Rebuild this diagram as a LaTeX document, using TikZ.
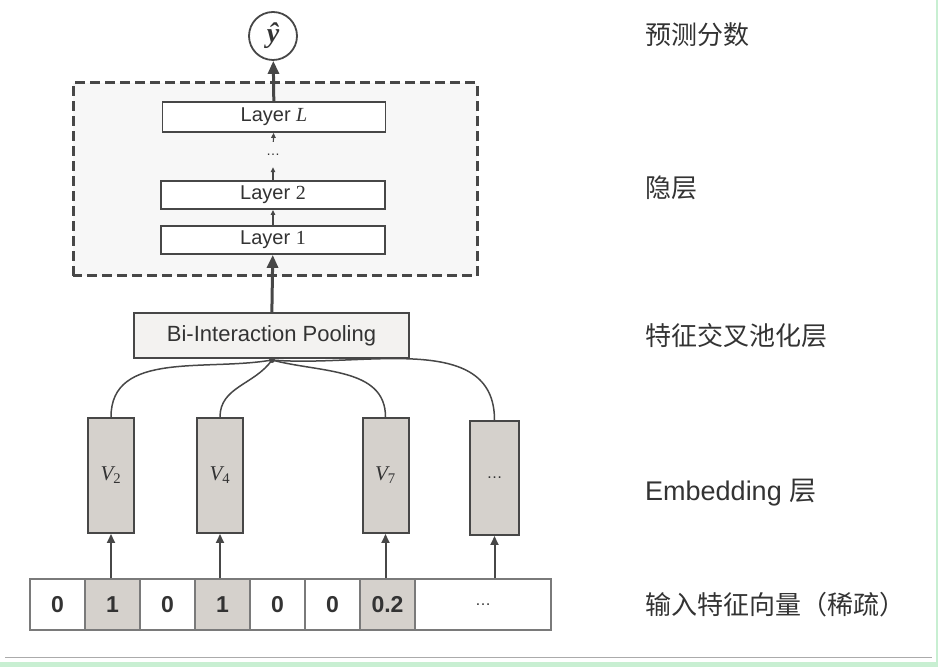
\documentclass[tikz,border=0pt]{standalone}
\usepackage{fontspec}
\setmainfont{Liberation Sans}
\newfontfamily\cjk{Noto Sans CJK SC}
\newfontfamily\serifnum{Liberation Serif}
\usepackage{xcolor}
\usetikzlibrary{arrows.meta, positioning, calc}
\definecolor{boxline}{HTML}{474747}
\definecolor{cellline}{HTML}{7A7A7A}
\definecolor{embfill}{HTML}{D5D1CC}
\definecolor{poolfill}{HTML}{F3F2F0}
\definecolor{hidfill}{HTML}{F7F7F7}
\definecolor{textgray}{HTML}{333333}
\definecolor{framegreen}{HTML}{C8EFD2}
\definecolor{rulegray}{HTML}{ABABAB}

\begin{document}
\begin{tikzpicture}[x=1pt, y=1pt]
    % Define styles
    \tikzstyle{layer} = [rectangle, draw=boxline, fill=white, line width=1.8pt, minimum width=224pt, minimum height=28pt, inner sep=0pt, text=textgray, font=\fontsize{20}{24}\selectfont]
    \tikzstyle{pool} = [rectangle, draw=boxline, fill=poolfill, line width=1.6pt, minimum width=275pt, minimum height=45pt, inner sep=0pt, text=textgray, font=\fontsize{22}{26}\selectfont]
    \tikzstyle{embed} = [rectangle, draw=boxline, fill=embfill, line width=2pt, minimum width=46pt, minimum height=115pt, inner sep=0pt, text=textgray, font=\fontsize{21}{24}\selectfont\serifnum\itshape]
    \tikzstyle{cell} = [rectangle, draw=cellline, fill=white, line width=1.4pt, minimum width=55pt, minimum height=51pt, inner sep=0pt, text=textgray, font=\fontsize{23}{26}\selectfont\bfseries]
    \tikzstyle{hot} = [cell, fill=embfill]
    \tikzstyle{sidelabel} = [anchor=west, inner sep=0pt, text=textgray, font=\fontsize{26}{30}\selectfont\cjk]
    \tikzstyle{bigarrow} = [draw=boxline, line width=3pt, -{Triangle[length=13pt, width=11pt]}]
    \tikzstyle{smallarrow} = [draw=boxline, line width=1.2pt, -{Triangle[length=5pt, width=4.5pt]}]
    \tikzstyle{inarrow} = [draw=boxline, line width=2pt, -{Triangle[length=9pt, width=8pt]}]
    \tikzstyle{link} = [draw=boxline, line width=1.5pt]

    \useasboundingbox (0,0) rectangle (938,667);

    % frame
    \fill[framegreen] (0,0) rectangle (938,5);
    \fill[framegreen] (936,5) rectangle (938,667);
    \draw[rulegray, line width=1.5pt] (5,9.5) -- (932,9.5);

    % hidden layers
    \draw[boxline, fill=hidfill, line width=3pt, dash pattern=on 10pt off 5pt] (73,391) rectangle (477,584);
    \node[layer] (layer1) at (273,427) {Layer {\serifnum 1}};
    \node[layer] (layer2) at (273,472) {Layer {\serifnum 2}};
    \node[inner sep=0pt, minimum height=25pt, text=textgray, font=\fontsize{14}{16}\selectfont] (ldots) at (273,512.5) {\dots};
    \node[layer, minimum width=223pt, minimum height=30pt] (layerL) at (274,550) {Layer {\serifnum\itshape L}};

    % output
    \node[circle, draw=boxline, line width=1.8pt, minimum size=48pt, inner sep=0pt, text=textgray, font=\fontsize{28}{30}\selectfont\serifnum\bfseries\itshape] (yhat) at (273,631) {ŷ};

    \draw[smallarrow] (layer1) -- (layer2);
    \draw[smallarrow] (layer2) -- (ldots);
    \draw[smallarrow] (ldots) -- (layerL);
    \draw[bigarrow] (layerL) -- (yhat);

    % pooling
    \node[pool] (pool) at (271.5,331.5) {Bi-Interaction Pooling};
    \draw[bigarrow] (pool) -- (layer1);
    \coordinate (junc) at (272,307);
    \fill[boxline] (junc) circle (3pt);

    % embeddings
    \node[embed] (v2) at (111,191.5) {V\textsubscript{\upshape 2}};
    \node[embed] (v4) at (220,191.5) {V\textsubscript{\upshape 4}};
    \node[embed] (v7) at (385.5,191.5) {V\textsubscript{\upshape 7}};
    \node[embed, minimum width=49pt, minimum height=114pt, font=\fontsize{16}{18}\selectfont] (vdots) at (494.5,189) {\dots};

    \draw[link] (junc) to[out=190, in=90] (v2.north);
    \draw[link] (junc) to[out=235, in=90] (v4.north);
    \draw[link] (junc) to[out=-15, in=90] (v7.north);
    \draw[link] (junc) to[out=-5, in=90] (vdots.north);

    % input vector
    \node[cell] (c1) at (57.5,62.5) {0};
    \node[hot] (c2) at (112.5,62.5) {1};
    \node[cell] (c3) at (167.5,62.5) {0};
    \node[hot] (c4) at (222.5,62.5) {1};
    \node[cell] (c5) at (277.5,62.5) {0};
    \node[cell] (c6) at (332.5,62.5) {0};
    \node[hot] (c7) at (387.5,62.5) {0.2};
    \node[cell, minimum width=136pt, font=\fontsize{16}{18}\selectfont] (c8) at (483,62.5) {\dots};

    \draw[inarrow] (v2.south |- c2.north) -- (v2.south);
    \draw[inarrow] (v4.south |- c4.north) -- (v4.south);
    \draw[inarrow] (v7.south |- c7.north) -- (v7.south);
    \draw[inarrow] (vdots.south |- c8.north) -- (vdots.south);

    % side labels
    \node[sidelabel] (lout) at (645,632) {预测分数};
    \node[sidelabel] (lhid) at (645,479) {隐层};
    \node[sidelabel] (lpool) at (645,331) {特征交叉池化层};
    \node[sidelabel, font=\fontsize{27}{30}\selectfont] (lemb) at (645,174) {Embedding {\cjk 层}};
    \node[sidelabel, font=\fontsize{26}{30}\selectfont\cjk] (lin) at (645,62) {输入特征向量（稀疏）};
\end{tikzpicture}
\end{document}
